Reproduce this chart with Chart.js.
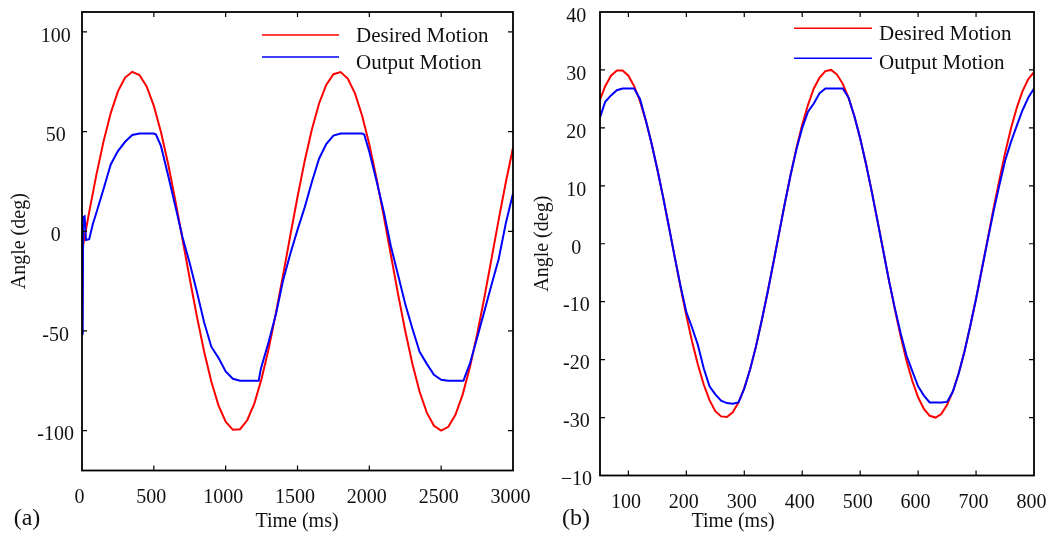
<!DOCTYPE html>
<html>
<head>
<meta charset="utf-8">
<script src="https://cdn.jsdelivr.net/npm/chart.js@4.4.0/dist/chart.umd.min.js"></script>
<style>
body { margin: 0; background: #fff; width: 1056px; height: 535px; overflow: hidden; position: relative; }
.box { position: absolute; top: 0; height: 535px; }
#boxA { left: 0; width: 540px; }
#boxB { left: 530px; width: 526px; }
</style>
</head>
<body>
<div class="box" id="boxA"><canvas id="chartA"></canvas></div>
<div class="box" id="boxB"><canvas id="chartB"></canvas></div>
<script>
// (a) 0 - 3000 ms
const timeA = [0, 50, 100, 150, 200, 250, 300, 350, 400, 450, 500, 550, 600, 650, 700, 750, 800, 850, 900, 950,
	1000, 1050, 1100, 1150, 1200, 1250, 1300, 1350, 1400, 1450, 1500, 1550, 1600, 1650, 1700, 1750, 1800, 1850, 1900, 1950,
	2000, 2050, 2100, 2150, 2200, 2250, 2300, 2350, 2400, 2450, 2500, 2550, 2600, 2650, 2700, 2750, 2800, 2850, 2900, 2950, 3000];
const desiredA = [-10, 9.6, 28.3, 45.1, 59.3, 70.2, 77.1, 80.0, 78.4, 72.7, 62.9, 49.7, 33.6, 15.4, -4.1, -23.8, -42.8, -60.3, -75.4, -87.3,
	-95.5, -99.6, -99.3, -94.8, -86.3, -74.0, -58.7, -41.0, -21.8, -2.1, 17.2, 35.3, 51.1, 64.1, 73.4, 78.8, 79.9, 76.6, 69.2, 58.0,
	43.6, 26.5, 7.7, -11.9, -31.5, -50.0, -66.6, -80.5, -91.0, -97.6, -100.0, -98.1, -91.9, -81.8, -68.2, -51.8, -33.5, -14.0, 5.7, 24.6, 41.9];
const outTimeA = [0, 5, 8, 18, 28, 50, 75, 100, 150, 200, 250, 300, 350, 400, 450, 500, 515, 550, 600, 650,
	700, 750, 800, 850, 900, 950, 1000, 1050, 1100, 1150, 1200, 1230, 1245, 1300, 1350, 1400, 1450, 1500, 1550, 1600,
	1650, 1700, 1750, 1800, 1850, 1900, 1950, 1965, 2000, 2050, 2100, 2150, 2200, 2250, 2300, 2350, 2400, 2450, 2500, 2550,
	2600, 2655, 2670, 2700, 2750, 2800, 2850, 2900, 2950, 3000];
const outputA = [-2, -52, 7, 7.5, -4.4, -4, 3.5, 9.3, 21.2, 33.5, 40.2, 44.9, 48.3, 49, 49, 49, 48.5, 42.7, 27.9, 12.5,
	-3.1, -16, -30.5, -45.6, -57.9, -63.5, -70.3, -74, -75, -75, -75, -75, -69, -55.3, -41.5, -24.6, -11.3, 0.7, 12, 24.7,
	36.4, 43.7, 48, 49, 49, 49, 49, 48.5, 39.9, 25.3, 10, -7.5, -21.9, -36.5, -48.9, -60.5, -66.5, -72, -74.5, -75,
	-75, -75, -72, -66.4, -53.5, -40.3, -27, -14, 4, 19];
const xTicksA = [0, 500, 1000, 1500, 2000, 2500, 3000];
const yTicksA = [-100, -50, 0, 50, 100];

// (b) 50 - 800 ms
const timeB = [50, 60, 70, 80, 90, 100, 110, 120, 130, 140, 150, 160, 170, 180, 190, 200, 210, 220, 230, 240,
	250, 260, 270, 280, 290, 300, 310, 320, 330, 340, 350, 360, 370, 380, 390, 400, 410, 420, 430, 440,
	450, 460, 470, 480, 490, 500, 510, 520, 530, 540, 550, 560, 570, 580, 590, 600, 610, 620, 630, 640,
	650, 660, 670, 680, 690, 700, 710, 720, 730, 740, 750, 760, 770, 780, 790, 800];
const desiredB = [24.6, 27.2, 29.0, 29.9, 29.9, 29.0, 27.2, 24.6, 21.3, 17.3, 12.8, 8.0, 2.9, -2.3, -7.5, -12.4, -16.9, -20.9, -24.3, -27.0,
	-28.9, -29.8, -29.9, -29.1, -27.4, -24.9, -21.7, -17.8, -13.3, -8.5, -3.4, 1.8, 7.0, 11.9, 16.5, 20.6, 24.0, 26.8, 28.7, 29.8,
	30.0, 29.2, 27.6, 25.2, 22.0, 18.2, 13.8, 9.0, 3.9, -1.3, -6.5, -11.4, -16.0, -20.2, -23.7, -26.5, -28.5, -29.7, -30.0, -29.4,
	-27.8, -25.5, -22.4, -18.6, -14.2, -9.5, -4.4, 0.8, 6.0, 10.9, 15.6, 19.8, 23.4, 26.3, 28.4, 29.6];
const outputB = [21.5, 24.5, 25.6, 26.5, 26.8, 26.8, 26.8, 25.0, 21.3, 17.3, 12.8, 8.0, 2.9, -2.3, -7.3, -11.8, -14.5, -17.5, -21.5, -24.6,
	-26.0, -27.1, -27.5, -27.6, -27.4, -25.0, -21.7, -17.8, -13.3, -8.5, -3.4, 1.8, 7.0, 11.9, 16.3, 20.0, 22.8, 24.2, 26.0, 26.8,
	26.8, 26.8, 26.8, 25.2, 22.0, 18.2, 13.8, 9.0, 3.9, -1.3, -6.5, -11.2, -15.5, -19.3, -22.0, -24.6, -26.2, -27.4, -27.4, -27.4,
	-27.3, -25.5, -22.4, -18.6, -14.2, -9.5, -4.4, 0.6, 5.5, 10.0, 14.3, 17.5, 20.3, 23.0, 25.2, 26.8];
const xTicksB = [100, 200, 300, 400, 500, 600, 700, 800];
const yTicksB = [-40, -30, -20, -10, 0, 10, 20, 30, 40];
const yLabelsB = ["\u221210", "-30", "-20", "-10", "0", "10", "20", "30", "40"];

const seriesNames = ["Desired Motion", "Output Motion"];
const seriesColors = ["#ff0000", "#0000ff"];

Chart.defaults.font.family = "'Liberation Serif', 'Times New Roman', serif";
Chart.defaults.font.size = 20;
Chart.defaults.color = "#111";

function pts(xs, ys) {
	return xs.map((x, i) => ({ x: x, y: ys[i] }));
}

// box, inward ticks, legend and captions
const framePlugin = {
	id: "frame",
	afterDatasetsDraw(chart, args, opts) {
		const { ctx, chartArea: a, scales } = chart;
		ctx.save();
		ctx.strokeStyle = "#000";
		ctx.lineWidth = 1.8;
		ctx.strokeRect(a.left, a.top, a.right - a.left, a.bottom - a.top);

		ctx.lineWidth = 1.2;
		ctx.beginPath();
		scales.x.ticks.forEach(t => {
			const px = scales.x.getPixelForValue(t.value);
			if (px < a.left + 2 || px > a.right - 2) return;
			ctx.moveTo(px, a.bottom); ctx.lineTo(px, a.bottom - 5);
			ctx.moveTo(px, a.top); ctx.lineTo(px, a.top + 5);
		});
		scales.y.ticks.forEach(t => {
			const py = scales.y.getPixelForValue(t.value);
			if (py < a.top + 2 || py > a.bottom - 2) return;
			ctx.moveTo(a.left, py); ctx.lineTo(a.left + 5, py);
			ctx.moveTo(a.right, py); ctx.lineTo(a.right - 5, py);
		});
		ctx.stroke();

		// legend
		const lg = opts.legend;
		ctx.font = "21px 'Liberation Serif'";
		ctx.textAlign = "left";
		ctx.textBaseline = "alphabetic";
		chart.data.datasets.forEach((ds, i) => {
			ctx.strokeStyle = ds.borderColor;
			ctx.lineWidth = 1.4;
			ctx.beginPath();
			ctx.moveTo(lg.x1, lg.lineY[i]);
			ctx.lineTo(lg.x2, lg.lineY[i]);
			ctx.stroke();
			ctx.fillStyle = "#111";
			ctx.fillText(ds.label, lg.textX, lg.textY[i]);
		});

		// captions
		opts.captions.forEach(c => {
			ctx.font = c.size + "px 'Liberation Serif'";
			ctx.textAlign = "center";
			ctx.fillStyle = "#111";
			ctx.fillText(c.text, c.x, c.y);
		});
		ctx.restore();
	}
};

function makeChart(id, cfg) {
	return new Chart(document.getElementById(id), {
		type: "line",
		data: {
			datasets: [
				{
					label: seriesNames[0],
					data: cfg.desired,
					borderColor: seriesColors[0],
					borderWidth: 2,
					pointRadius: 0,
					tension: 0,
					order: 2
				},
				{
					label: seriesNames[1],
					data: cfg.output,
					borderColor: seriesColors[1],
					borderWidth: 2,
					pointRadius: 0,
					tension: 0,
					order: 1
				}
			]
		},
		options: {
			responsive: true,
			maintainAspectRatio: false,
			animation: false,
			events: [],
			layout: {
				padding: { left: 0, top: cfg.top, right: cfg.right, bottom: 0 }
			},
			plugins: {
				legend: { display: false },
				tooltip: { enabled: false },
				frame: { legend: cfg.legend, captions: cfg.captions }
			},
			scales: {
				x: {
					type: "linear",
					min: cfg.xMin,
					max: cfg.xMax,
					afterBuildTicks: s => { s.ticks = cfg.xTicks.map(v => ({ value: v })); },
					afterFit: s => { s.height = cfg.xHeight; },
					grid: { display: true, drawOnChartArea: false, drawTicks: true, tickLength: 8, tickColor: "rgba(0,0,0,0)" },
					border: { display: false },
					ticks: {
						autoSkip: false,
						maxRotation: 0,
						padding: 7,
						labelOffset: -2.5,
						callback: v => String(v)
					}
				},
				y: {
					min: cfg.yMin,
					max: cfg.yMax,
					afterBuildTicks: s => { s.ticks = cfg.yTicks.map(v => ({ value: v })); },
					afterFit: s => { s.width = cfg.yWidth; },
					grid: { display: true, drawOnChartArea: false, drawTicks: true, tickLength: 8, tickColor: "rgba(0,0,0,0)" },
					border: { display: false },
					ticks: {
						crossAlign: "center",
						padding: 0,
						labelOffset: 4.5,
						callback: cfg.yLabel
					},
					title: {
						display: true,
						text: "Angle (deg)",
						padding: { top: cfg.titlePad, bottom: 0 }
					}
				}
			}
		},
		plugins: [framePlugin]
	});
}

makeChart("chartA", {
	desired: pts(timeA, desiredA),
	output: pts(outTimeA, outputA),
	xMin: 0, xMax: 3000, yMin: -120, yMax: 110,
	xTicks: xTicksA, yTicks: yTicksA,
	yLabel: v => String(v),
	top: 7, right: 27, yWidth: 82, xHeight: 64.5, titlePad: 8,
	legend: { x1: 262, x2: 339, lineY: [35, 57], textX: 356, textY: [41.5, 68.5] },
	captions: [
		{ text: "(a)", x: 27, y: 525, size: 24 },
		{ text: "Time (ms)", x: 297, y: 527, size: 20 }
	]
});

makeChart("chartB", {
	desired: pts(timeB, desiredB),
	output: pts(timeB, outputB),
	xMin: 51, xMax: 800, yMin: -40, yMax: 40,
	xTicks: xTicksB, yTicks: yTicksB,
	yLabel: v => yLabelsB[yTicksB.indexOf(v)],
	top: 10, right: 22, yWidth: 70, xHeight: 59.5, titlePad: 1,
	legend: { x1: 264, x2: 342, lineY: [28.3, 58.3], textX: 349, textY: [40, 68.5] },
	captions: [
		{ text: "(b)", x: 46, y: 525, size: 24 },
		{ text: "Time (ms)", x: 203, y: 527, size: 20 }
	]
});
</script>
</body>
</html>
